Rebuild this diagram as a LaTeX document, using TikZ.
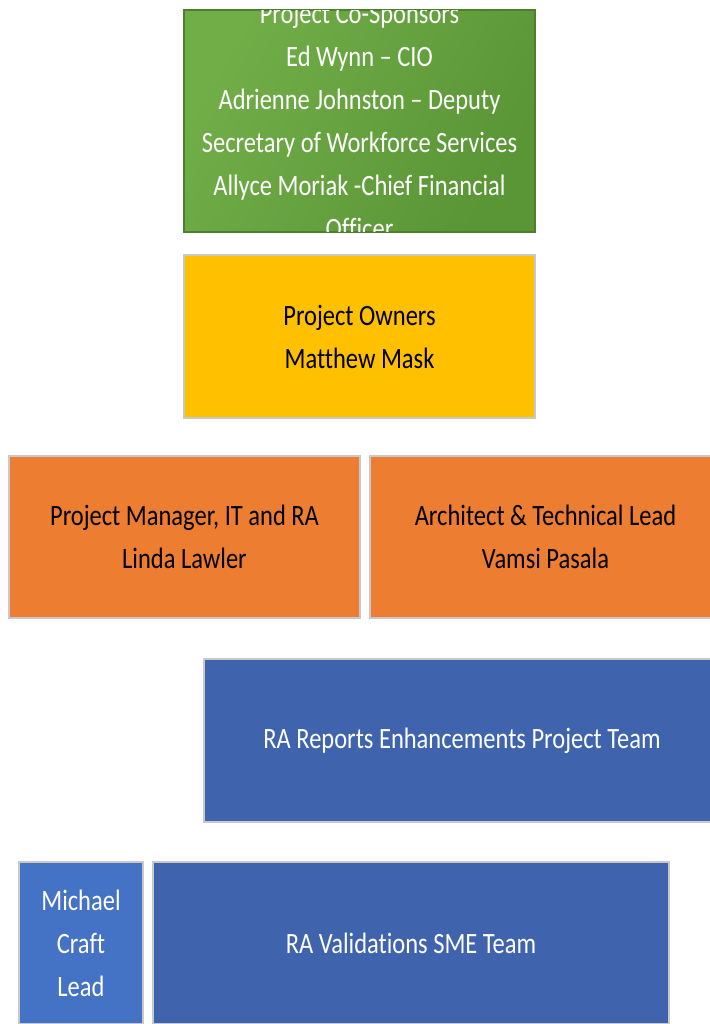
\documentclass[tikz,border=0pt]{standalone}
\usepackage{fontspec}
\newfontfamily\calfont[FakeStretch=0.83,Ligatures={NoCommon,TeX}]{Carlito}
\definecolor{gtop}{HTML}{71AE48}
\definecolor{gbot}{HTML}{5A9536}
\definecolor{gline}{HTML}{4E7F30}
\definecolor{ownyel}{HTML}{FFC000}
\definecolor{mgrorg}{HTML}{ED7D31}
\definecolor{teamblue}{HTML}{3F64AD}
\definecolor{leadblue}{HTML}{4472C4}
\definecolor{edgegray}{HTML}{C9C9C9}
\begin{document}
\begin{tikzpicture}[x=1pt,y=-1pt,
  orgbox/.style={rectangle, inner sep=0pt, line width=1.2pt, draw=edgegray,
    align=center, font=\calfont\fontsize{29.5}{43}\selectfont},
  whitetxt/.style={text=white},
  blacktxt/.style={text=black}]
\useasboundingbox (0,0) rectangle (709,1024);
% Green co-sponsors box (clipped text)
\node[orgbox, minimum width=351pt, minimum height=222pt, draw=gline,
  shading=axis, left color=gtop, right color=gbot, shading angle=60] (spons) at (359.5,121) {};
\begin{scope}
\clip (spons.north west) rectangle (spons.south east);
\node[orgbox, draw=none, whitetxt] (sponstext) at (spons.center)
  {Project Co-Sponsors\\Ed Wynn – CIO\\Adrienne Johnston – Deputy\\Secretary of Workforce Services\\Allyce Moriak -Chief Financial\\Officer};
\end{scope}
\draw[gline, line width=1pt] (spons.north west) rectangle (spons.south east);
% Owners
\node[orgbox, fill=ownyel, blacktxt, minimum width=351pt, minimum height=163pt] (own) at (359.5,336.5)
  {Project Owners\\Matthew Mask};
% Managers
\node[orgbox, fill=mgrorg, blacktxt, minimum width=351pt, minimum height=162pt] (pm) at (184.5,537)
  {Project Manager, IT and RA\\Linda Lawler};
\node[orgbox, fill=mgrorg, blacktxt, minimum width=351pt, minimum height=162pt] (arch) at (545.5,537)
  {Architect \& Technical Lead\\Vamsi Pasala};
% Project team
\node[orgbox, fill=teamblue, whitetxt, minimum width=516pt, minimum height=163pt] (team) at (462,740.5)
  {RA Reports Enhancements Project Team};
% SME team
\node[orgbox, fill=leadblue, whitetxt, minimum width=124pt, minimum height=162pt] (lead) at (81,943)
  {Michael\\Craft\\Lead};
\node[orgbox, fill=teamblue, whitetxt, minimum width=516pt, minimum height=162pt] (sme) at (411,943)
  {RA Validations SME Team};
\end{tikzpicture}
\end{document}
